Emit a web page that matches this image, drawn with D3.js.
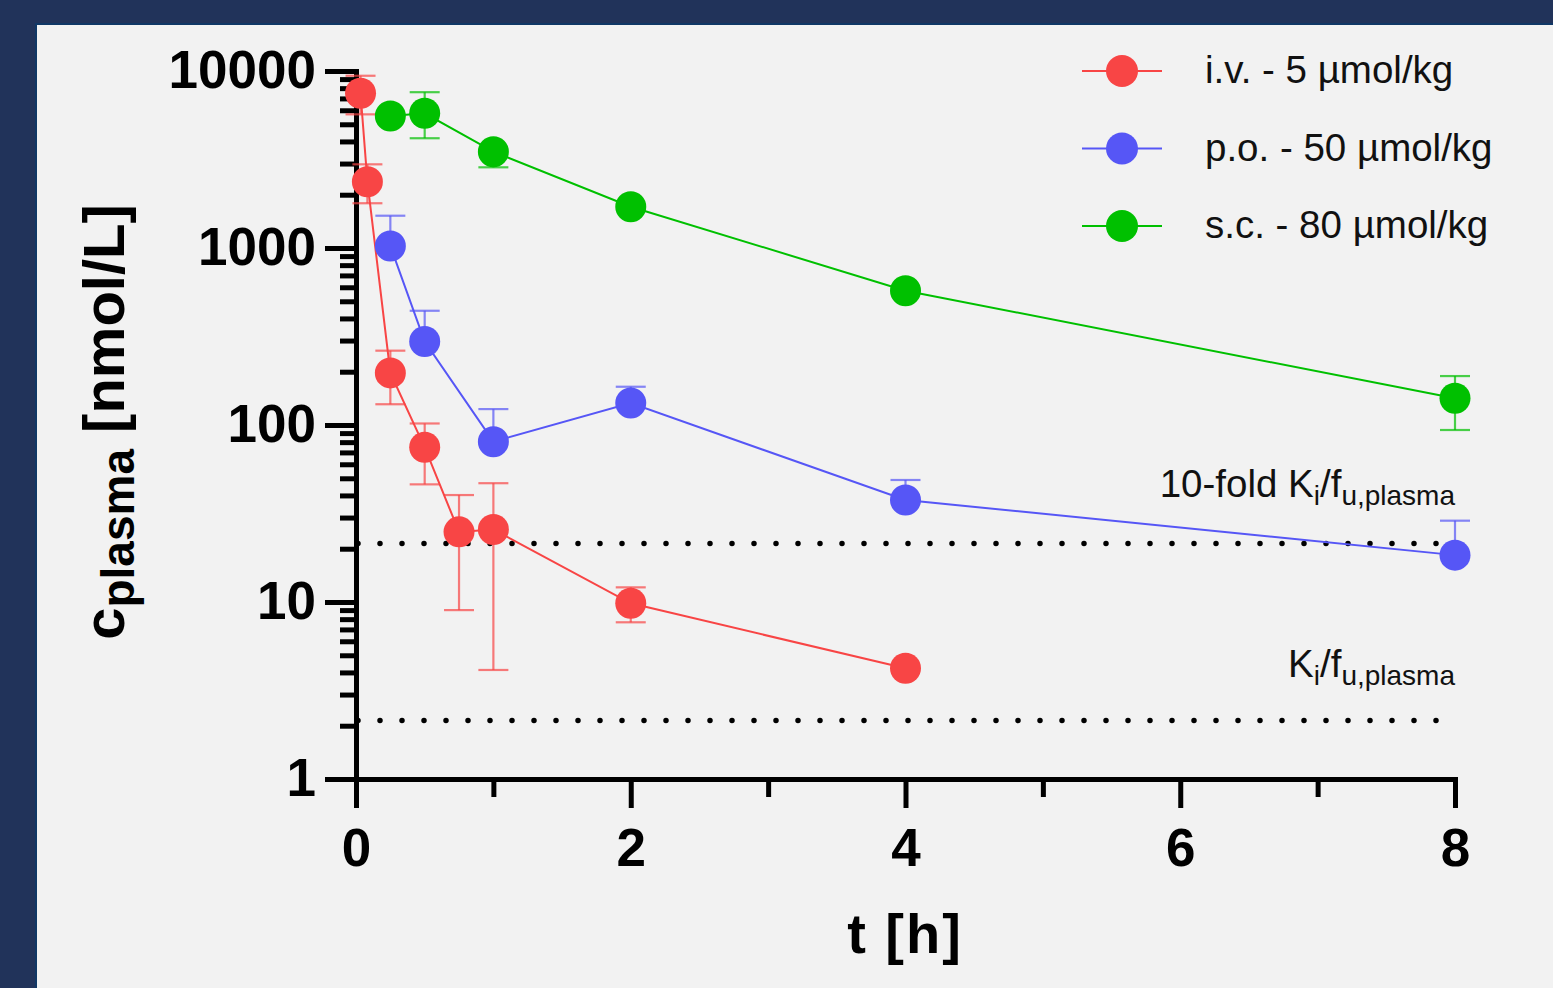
<!DOCTYPE html>
<html lang="en">
<head>
<meta charset="utf-8">
<title>Plasma concentration</title>
<script src="https://d3js.org/d3.v7.min.js"></script>
<style>
  html, body { margin: 0; padding: 0; background: #21335a; }
  svg { display: block; font-family: "Liberation Sans", Arial, sans-serif; }
  .axis path, .axis line { stroke: #000; stroke-width: 5; }
  .axis text { font-weight: bold; font-size: 53px; fill: #000; font-family: "Liberation Sans", Arial, sans-serif; }
</style>
</head>
<body>
<div id="chart"></div>
<script>
// ---- data ----
// i.v. - 5 umol/kg
var ivTime = [0.033, 0.083, 0.25, 0.5, 0.75, 1, 2, 4];
var ivMean = [7480, 2370, 197, 74.8, 24.9, 25.7, 9.83, 4.22];
var ivLow  = [5690, 1790, 131, 46.2, 9.0, 4.13, 7.68, null];
var ivHigh = [9400, 2970, 263, 102, 40.2, 46.9, 12.1, null];

// p.o. - 50 umol/kg (only the upper bars are shown)
var poTime = [0.25, 0.5, 1, 2, 4, 8];
var poMean = [1026, 296, 80.5, 133, 37.7, 18.4];
var poLow  = [null, null, null, null, null, null];
var poHigh = [1522, 442, 123, 164.5, 48.9, 28.8];

// s.c. - 80 umol/kg
var scTime = [0.25, 0.5, 1, 2, 4, 8];
var scMean = [5570, 5770, 3500, 1711, 574, 141.6];
var scLow  = [null, 4170, 2857, null, null, 93.7];
var scHigh = [null, 7590, null, null, null, 189];

var seriesNames = ["i.v. - 5 \u00b5mol/kg", "p.o. - 50 \u00b5mol/kg", "s.c. - 80 \u00b5mol/kg"];
var seriesColors = ["#f84545", "#5656f6", "#00c000"];

// reference levels
var kiFu = 2.14;
var kiFu10 = 21.4;

var xMajor = [0, 2, 4, 6, 8];
var xMinor = [1, 3, 5, 7];
var yMajor = [1, 10, 100, 1000, 10000];

// ---- layout ----
var W = 1553, H = 988;

var svg = d3.select("#chart").append("svg")
    .attr("width", W)
    .attr("height", H);

// light panel inside the navy frame
svg.append("rect")
    .attr("x", 36).attr("y", 24)
    .attr("width", W - 36 + 5).attr("height", H - 24 + 5)
    .attr("fill", "#f2f2f2")
    .attr("stroke", "#103866")
    .attr("stroke-width", 2);

var x = d3.scaleLinear().domain([0, 8]).range([356, 1455]);
var y = d3.scaleLog().domain([1, 10000]).range([779, 71]);

// minor ticks for log axis
var yMinor = [];
yMajor.slice(0, -1).forEach(function(d) {
  for (var k = 2; k <= 9; k++) yMinor.push(d * k);
});

// ---- y axis ----
svg.append("g")
    .attr("class", "axis")
    .attr("transform", "translate(356,0)")
    .call(d3.axisLeft(y).tickValues(yMinor).tickSize(16).tickSizeOuter(0).tickFormat(""))
    .select(".domain").remove();

var yAx = svg.append("g")
    .attr("class", "axis")
    .attr("transform", "translate(356,0)")
    .call(d3.axisLeft(y).tickValues(yMajor).tickSize(31).tickSizeOuter(0)
      .tickPadding(9).tickFormat(d3.format("d")));
yAx.select(".domain").attr("stroke-linecap", "square");

// ---- x axis ----
svg.append("g")
    .attr("class", "axis")
    .attr("transform", "translate(0,779)")
    .call(d3.axisBottom(x).tickValues(xMinor).tickSize(18).tickSizeOuter(0).tickFormat(""))
    .select(".domain").remove();

var xAx = svg.append("g")
    .attr("class", "axis")
    .attr("transform", "translate(0,779)")
    .call(d3.axisBottom(x).tickValues(xMajor).tickSize(29).tickSizeOuter(0).tickPadding(20));
xAx.select(".domain").attr("stroke-linecap", "square");

// axis titles
svg.append("text")
    .attr("x", 905).attr("y", 953)
    .attr("text-anchor", "middle")
    .style("font-size", "56px").style("font-weight", "bold")
    .style("letter-spacing", "2px")
    .text("t [h]");

var yt = svg.append("text")
    .attr("transform", "translate(124,422) rotate(-90)")
    .attr("text-anchor", "middle")
    .style("font-size", "58px").style("font-weight", "bold");
yt.append("tspan").text("c");
yt.append("tspan").attr("dy", 10).style("font-size", "46px").text("plasma");
yt.append("tspan").attr("dy", -10).text(" [nmol/L]");

// ---- dotted reference lines ----
[kiFu10, kiFu].forEach(function(v) {
  svg.append("line")
      .attr("x1", x(0) + 2).attr("x2", 1445)
      .attr("y1", y(v)).attr("y2", y(v))
      .attr("stroke", "#000")
      .attr("stroke-width", 5.5)
      .attr("stroke-linecap", "round")
      .attr("stroke-dasharray", "0 22");
});

function refLabel(yy, prefix) {
  var t = svg.append("text")
      .attr("x", 1455).attr("y", yy)
      .attr("text-anchor", "end")
      .style("font-size", "38.5px").style("fill", "#111");
  t.append("tspan").text(prefix + "K");
  t.append("tspan").attr("dy", 8).style("font-size", "28px").text("i");
  t.append("tspan").attr("dy", -8).text("/f");
  t.append("tspan").attr("dy", 8).style("font-size", "28px").text("u,plasma");
}
refLabel(497, "10-fold ");
refLabel(677, "");

// ---- series ----
var allSeries = [
  {t: ivTime, m: ivMean, lo: ivLow, hi: ivHigh},
  {t: poTime, m: poMean, lo: poLow, hi: poHigh},
  {t: scTime, m: scMean, lo: scLow, hi: scHigh}
];

var line = d3.line()
    .x(function(d) { return x(d.t); })
    .y(function(d) { return y(d.m); });

allSeries.forEach(function(s, i) {
  var col = seriesColors[i];
  var pts = s.t.map(function(t, j) {
    return {t: t, m: s.m[j], lo: s.lo[j], hi: s.hi[j]};
  });
  var g = svg.append("g");

  // error bars
  pts.forEach(function(d) {
    [d.lo, d.hi].forEach(function(e) {
      if (e == null) return;
      g.append("line")
          .attr("x1", x(d.t)).attr("x2", x(d.t))
          .attr("y1", y(d.m)).attr("y2", y(e))
          .attr("stroke", col).attr("stroke-width", 2.2).attr("opacity", 0.7);
      g.append("line")
          .attr("x1", x(d.t) - 15).attr("x2", x(d.t) + 15)
          .attr("y1", y(e)).attr("y2", y(e))
          .attr("stroke", col).attr("stroke-width", 2.2).attr("opacity", 0.7);
    });
  });

  g.append("path")
      .datum(pts)
      .attr("fill", "none")
      .attr("stroke", col)
      .attr("stroke-width", 2)
      .attr("d", line);

  g.selectAll("circle")
      .data(pts)
      .enter().append("circle")
      .attr("cx", function(d) { return x(d.t); })
      .attr("cy", function(d) { return y(d.m); })
      .attr("r", 15.5)
      .attr("fill", col);
});

// ---- legend ----
seriesNames.forEach(function(name, i) {
  var ly = 71 + i * 77.5;
  svg.append("line")
      .attr("x1", 1082).attr("x2", 1162)
      .attr("y1", ly).attr("y2", ly)
      .attr("stroke", seriesColors[i]).attr("stroke-width", 2);
  svg.append("circle")
      .attr("cx", 1122).attr("cy", ly).attr("r", 16)
      .attr("fill", seriesColors[i]);
  svg.append("text")
      .attr("x", 1205).attr("y", ly + 12)
      .style("font-size", "38.5px").style("fill", "#111")
      .text(name);
});
</script>
</body>
</html>
